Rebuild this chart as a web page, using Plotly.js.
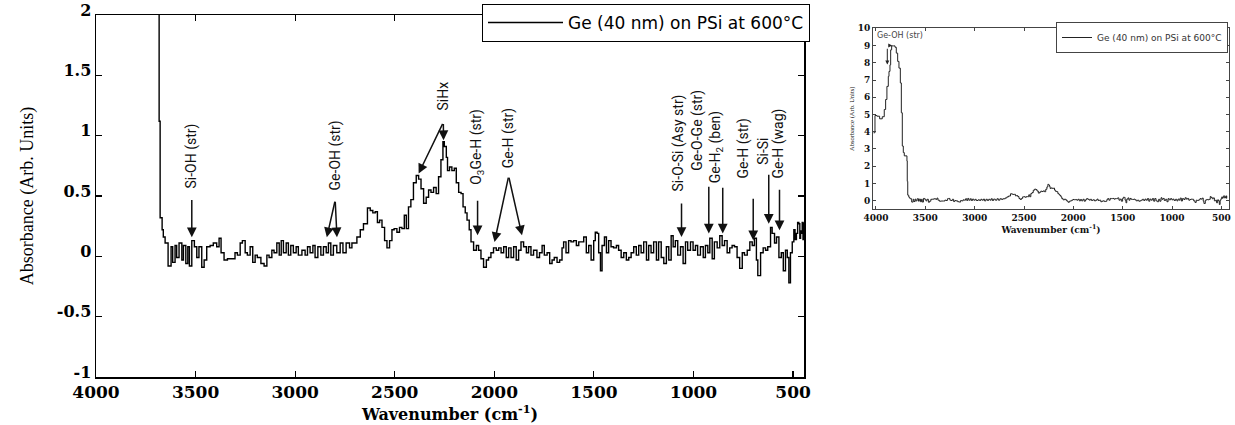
<!DOCTYPE html>
<html>
<head>
<meta charset="utf-8">
<script src="https://cdn.plot.ly/plotly-3.0.1.min.js"></script>
<style>html,body{margin:0;padding:0;background:#fff;}#chart{width:1235px;height:425px;}</style>
</head>
<body>
<div id="chart"></div>
<script>
// ---- data: absorbance spectrum of Ge (40 nm) on PSi at 600 °C ----
const highWn  = [4024,4010,3990,3963,3936,3916,3902,3889,3875,3868,3858,3851,3841,3821,3807,3794,3780,3767,3753,3743,3733,3723,3713,3686];
const highAbs = [3.94,4.94,4.90,4.75,4.87,5.29,5.87,6.63,7.21,7.50,7.88,8.75,8.98,8.98,8.90,8.56,8.08,7.69,6.83,5.10,3.17,2.79,2.60,2.30];

const wavenumber = [3683,3678,3668,3662,3653,3638,3623,3615,3603,3595,3583,3569,3561,3549,3539,3531,3519,3506,3494,3483,3469,3457,3444,3427,3411,3394,3382,3372,3357,3340,3318,3302,3290,3276,3265,3251,3240,3226,3213,3201,3190,3172,3156,3142,3131,3117,3106,3092,3080,3070,3059,3045,3034,3022,3009,2995,2984,2966,2950,2938,2925,2911,2900,2886,2871,2858,2844,2833,2821,2808,2791,2774,2760,2744,2727,2715,2690,2673,2657,2637,2623,2610,2598,2587,2576,2564,2551,2539,2526,2514,2503,2489,2476,2464,2452,2442,2431,2419,2406,2392,2380,2368,2355,2342,2330,2318,2305,2292,2280,2268,2258,2251,2241,2235,2225,2213,2201,2191,2179,2167,2157,2146,2137,2126,2117,2104,2090,2079,2067,2054,2040,2029,2017,2004,1990,1978,1966,1953,1940,1928,1916,1903,1890,1878,1866,1853,1839,1828,1816,1803,1786,1773,1760,1749,1735,1722,1710,1699,1685,1672,1660,1652,1640,1627,1615,1602,1588,1576,1564,1551,1538,1526,1514,1501,1493,1484,1476,1467,1459,1447,1437,1426,1414,1401,1387,1376,1363,1350,1337,1325,1313,1300,1287,1275,1263,1250,1236,1225,1213,1200,1186,1175,1162,1149,1136,1124,1112,1102,1091,1079,1065,1052,1040,1029,1015,1002,990,979,965,951,940,928,918,906,895,881,868,856,844,831,818,806,794,781,768,755,744,730,717,705,694,684,677,663,650,638,627,613,605,593,583,571,559,549,538,529,521,513,504,496,490,483,477,471,466,462,458,454,450,446];
const absorbance = [1.12,0.32,0.22,0.16,0.11,-0.08,0.08,-0.05,0.09,-0.01,0.11,-0.03,0.09,-0.06,0.08,-0.08,0.13,0.08,-0.01,0.08,-0.09,-0.03,0.08,0.09,0.11,0.08,0.15,0.03,-0.03,-0.02,-0.02,0.03,0.01,0.11,0.13,0.03,0.01,0.08,-0.05,0.01,-0.01,-0.06,-0.08,0.01,-0.01,0.05,0.03,0.11,0.01,0.13,0.03,0.11,0.01,0.09,0.03,0.08,0.01,0.05,0.01,0.08,0.03,0.09,-0.01,0.08,0.01,0.08,0.03,0.11,0.01,0.09,0.03,0.11,0.03,0.11,0.07,0.11,0.16,0.22,0.27,0.40,0.38,0.36,0.37,0.28,0.30,0.24,0.13,0.07,0.13,0.22,0.23,0.20,0.24,0.23,0.34,0.23,0.41,0.47,0.61,0.67,0.64,0.56,0.44,0.49,0.55,0.53,0.57,0.52,0.66,0.80,0.95,0.91,0.82,0.71,0.74,0.71,0.73,0.61,0.53,0.52,0.41,0.36,0.30,0.22,0.12,0.05,0.09,0.05,-0.02,-0.09,-0.03,-0.01,0.03,0.07,0.05,0.07,0.03,0.08,-0.01,0.07,-0.01,0.08,-0.03,0.05,0.12,0.08,0.03,0.08,0.01,0.05,-0.01,0.03,0.09,0.01,0.03,-0.06,-0.03,-0.01,-0.05,-0.03,0.07,0.12,0.03,0.13,0.12,0.13,0.09,0.12,0.12,0.16,0.03,0.09,-0.03,0.13,0.20,0.19,0.03,-0.12,0.09,0.16,0.03,0.13,0.08,0.07,0.09,0.05,-0.01,0.03,-0.03,-0.01,0.03,0.08,0.01,0.09,0.03,0.12,-0.03,0.09,0.03,0.12,-0.03,0.12,-0.01,-0.06,0.08,-0.03,0.17,0.08,0.13,0.01,0.08,-0.06,0.12,0.05,0.12,0.05,0.09,0.01,0.08,-0.01,0.09,0.03,0.15,-0.02,0.12,0.07,0.17,0.09,0.13,0.03,0.07,0.09,0.08,-0.01,-0.10,0.03,0.01,0.05,0.12,0.09,0.15,-0.03,-0.16,0.03,0.07,0.05,0.08,0.24,0.19,0.11,0.16,-0.01,0.03,-0.12,0.05,-0.01,-0.22,0.03,0.12,0.22,0.14,0.19,0.28,0.27,0.15,0.21,0.19,0.28,0.14,0.28,0.22];

const seriesName = "Ge (40 nm) on PSi at 600°C";

// main-plot ticks
const xTickVals = [4000,3500,3000,2500,2000,1500,1000,500];
const xTickText = ["4000","3500","3000","2500","2000","1500","1000","500"];
const yTickVals = [-1,-0.5,0,0.5,1,1.5,2];
const yTickText = ["-1","-0.5","0","0.5","1","1.5","2"];
const insetYTickVals = [0,1,2,3,4,5,6,7,8,9,10];

// peak labels (rotated text) : label, wavenumber, absorbance at text bottom
const peakLabels = ["Si-OH (str)","Ge-OH (str)","SiHx","O<sub>3</sub>Ge-H (str)","Ge-H (str)","Si-O-Si (Asy str)","Ge-O-Ge (str)","Ge-H<sub>2</sub> (ben)","Ge-H (str)","Si-Si","Ge-H (wag)"];
const peakLabelWn  = [3519,2799,2258,2084,1928,1074,977,889,747,655,574];
const peakLabelAbs = [0.548,0.531,1.195,0.573,0.714,0.523,0.689,0.589,0.631,0.739,0.631];

// arrows : tail -> tip
const arrowTailWn  = [3519,2799,2799,2256,2256,2084,1928,1928,1060,923,853,700,622,568];
const arrowTailAbs = [0.48,0.465,0.465,1.11,1.11,0.473,0.664,0.664,0.451,0.589,0.581,0.49,0.689,0.564];
const arrowTipWn   = [3519,2841,2790,2380,2255,2084,1999,1861,1060,923,853,700,622,568];
const arrowTipAbs  = [0.158,0.158,0.158,0.686,0.963,0.174,0.119,0.174,0.16,0.19,0.19,0.133,0.27,0.216];

const fullWn = highWn.concat(wavenumber);
const fullAbs = highAbs.concat(absorbance);

const traces = [
  {x: fullWn, y: fullAbs, type: "scatter", mode: "lines", name: seriesName,
   line: {color: "#000", width: 1.4, shape: "hv"}, xaxis: "x", yaxis: "y", legend: "legend"},
  {x: fullWn, y: fullAbs, type: "scatter", mode: "lines", name: seriesName,
   line: {color: "#222", width: 1, shape: "hv"}, xaxis: "x2", yaxis: "y2", legend: "legend2"}
];

const annotations = [];
peakLabels.forEach((t, i) => {
  annotations.push({xref: "x", yref: "y", x: peakLabelWn[i], y: peakLabelAbs[i], text: t,
    textangle: -90, showarrow: false, xanchor: "center", yanchor: "bottom",
    font: {family: "Liberation Sans Narrow, Roboto, sans-serif", size: 14, color: "#111"}});
});
arrowTipWn.forEach((w, i) => {
  annotations.push({xref: "x", yref: "y", axref: "x", ayref: "y",
    x: w, y: arrowTipAbs[i], ax: arrowTailWn[i], ay: arrowTailAbs[i], text: "",
    showarrow: true, arrowhead: 2, arrowsize: 1.3, arrowwidth: 1.5, arrowcolor: "#111", standoff: 0});
});
// inset label
annotations.push({xref: "x2", yref: "y2", x: 4013, y: 9.57, text: "Ge-OH (str)", showarrow: false,
  xanchor: "left", yanchor: "middle", font: {family: "DejaVu Sans", size: 8, color: "#444"}});
annotations.push({xref: "x2", yref: "y2", axref: "x2", ayref: "y2", x: 3885, y: 7.9, ax: 3885, ay: 8.9,
  text: "", showarrow: true, arrowhead: 2, arrowsize: 0.8, arrowwidth: 1, arrowcolor: "#222"});
annotations.push({xref: "x2", yref: "y2", axref: "x2", ayref: "y2", x: 3835, y: 9.0, ax: 3862, ay: 9.0,
  text: "", showarrow: true, arrowhead: 2, arrowsize: 0.8, arrowwidth: 1, arrowcolor: "#222"});

const serif = "Liberation Serif, Times New Roman, serif";
const wideSerif = "DejaVu Serif, Liberation Serif, serif";

const layout = {
  width: 1235, height: 425,
  margin: {l: 0, r: 0, t: 0, b: 0},
  paper_bgcolor: "#fff", plot_bgcolor: "#fff",
  showlegend: true,
  xaxis: {domain: [96/1235, 804/1235], range: [4000, 445], anchor: "y",
    tickvals: xTickVals, ticktext: xTickText, ticks: "inside", ticklen: 6, tickwidth: 1.2, tickcolor: "#000",
    showline: true, linecolor: "#000", linewidth: 1.5, mirror: "ticks", showgrid: false, zeroline: false,
    tickfont: {family: wideSerif, size: 17, color: "#000", weight: "bold"}, ticklabelstandoff: -1,
    title: {text: "Wavenumber (cm<sup>-1</sup>)", font: {family: wideSerif, size: 16, color: "#000", weight: "bold"}, standoff: 3},
    automargin: false},
  yaxis: {domain: [48/425, 410/425], range: [-1, 2], anchor: "x",
    tickvals: yTickVals, ticktext: yTickText, ticks: "inside", ticklen: 6, tickwidth: 1.2, tickcolor: "#000",
    showline: true, linecolor: "#000", linewidth: 1.5, mirror: "ticks", showgrid: false, zeroline: false,
    tickfont: {family: wideSerif, size: 16, color: "#000", weight: "bold"}, ticklabelshift: -5,
    title: {text: "Absorbance (Arb. Units)", font: {family: serif, size: 18, color: "#000"}, standoff: 18},
    automargin: false},
  xaxis2: {domain: [873/1235, 1229/1235], range: [4030, 423], anchor: "y2",
    tickvals: xTickVals, ticktext: xTickText, ticks: "inside", ticklen: 3, tickcolor: "#444",
    showline: true, linecolor: "#444", linewidth: 1, mirror: "ticks", showgrid: false, zeroline: false,
    tickfont: {family: wideSerif, size: 9, color: "#111", weight: "bold"},
    title: {text: "Wavenumber (cm<sup>-1</sup>)", font: {family: wideSerif, size: 9, color: "#111", weight: "bold"}, standoff: 2},
    automargin: false},
  yaxis2: {domain: [215.7/425, 396.7/425], range: [-0.5, 10], anchor: "x2",
    tickvals: insetYTickVals, ticks: "inside", ticklen: 3, tickcolor: "#444",
    showline: true, linecolor: "#444", linewidth: 1, mirror: "ticks", showgrid: false, zeroline: false,
    tickfont: {family: wideSerif, size: 9, color: "#111", weight: "bold"},
    title: {text: "Absorbance (Arb. Units)", font: {family: serif, size: 6.5, color: "#111"}, standoff: 2},
    automargin: false},
  legend: {x: 810/1235, xanchor: "right", y: 1 - 4/425, yanchor: "top",
    bgcolor: "#fff", bordercolor: "#000", borderwidth: 1, itemwidth: 75,
    font: {family: "DejaVu Sans, sans-serif", size: 17, color: "#000"}},
  legend2: {x: 1228/1235, xanchor: "right", y: 1 - 22/425, yanchor: "top",
    bgcolor: "#fff", bordercolor: "#444", borderwidth: 1, itemwidth: 30,
    font: {family: "DejaVu Sans, sans-serif", size: 9, color: "#333"}},
  annotations: annotations
};

Plotly.newPlot("chart", traces, layout, {displayModeBar: false, staticPlot: true});
</script>
</body>
</html>
